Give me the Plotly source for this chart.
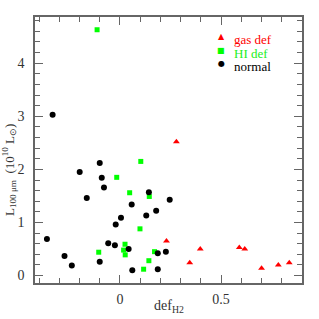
import plotly.graph_objects as go

# gas deficient (red triangles)
gas_x = [0.279, 0.23, 0.345, 0.397, 0.59, 0.617, 0.70, 0.783, 0.837]
gas_y = [2.52, 0.65, 0.24, 0.50, 0.53, 0.50, 0.14, 0.20, 0.24]

# HI deficient (green squares)
hi_x = [-0.113, -0.105, -0.016, 0.048, 0.145, 0.103, 0.099, 0.025, 0.018, 0.026, 0.117, 0.143, 0.171]
hi_y = [4.63, 0.44, 1.85, 1.56, 1.49, 2.15, 0.88, 0.59, 0.48, 0.39, 0.12, 0.28, 0.45]

# normal (black circles)
norm_x = [-0.333, -0.361, -0.274, -0.238, -0.199, -0.164, -0.100, -0.090, -0.079, -0.100,
          -0.058, -0.025, -0.021, 0.005, 0.058, 0.143, 0.130, 0.179, 0.043, 0.061,
          0.187, 0.187, 0.246, 0.227]
norm_y = [3.03, 0.69, 0.37, 0.19, 1.95, 1.46, 2.12, 1.84, 1.66, 0.26,
          0.61, 0.57, 0.96, 1.09, 1.34, 1.57, 1.13, 1.22, 0.50, 0.10,
          0.42, 0.12, 1.43, 0.45]

legend_labels = ["gas def", "HI def", "normal"]
legend_colors = ["#ff0000", "#00ff00", "#000000"]
legend_glyphs = ["▲", "■", "●"]

FONT = "Liberation Serif"

fig = go.Figure()
fig.add_trace(go.Scatter(x=gas_x, y=gas_y, mode="markers", name=legend_labels[0],
                         marker=dict(symbol="triangle-up", size=6, color=legend_colors[0])))
fig.add_trace(go.Scatter(x=hi_x, y=hi_y, mode="markers", name=legend_labels[1],
                         marker=dict(symbol="square", size=5, color=legend_colors[1])))
fig.add_trace(go.Scatter(x=norm_x, y=norm_y, mode="markers", name=legend_labels[2],
                         marker=dict(symbol="circle", size=6, color=legend_colors[2])))

axcommon = dict(showline=True, linecolor="#666666", linewidth=1.5, mirror="allticks",
                ticks="inside", tickcolor="#666666", showgrid=False, zeroline=False,
                tickfont=dict(family=FONT, size=14, color="#333333"))

fig.update_xaxes(range=[-0.42, 0.9], tickvals=[0, 0.5], ticktext=["0", "0.5"], ticklen=8,
                 ticklabelstandoff=2,
                 minor=dict(ticks="inside", dtick=0.1, tick0=0, ticklen=5, tickcolor="#666666"),
                 **axcommon)
fig.update_yaxes(range=[-0.14, 4.87], tickvals=[0, 1, 2, 3, 4], ticklen=8,
                 ticklabelstandoff=6,
                 minor=dict(ticks="inside", dtick=0.2, tick0=0, ticklen=5, tickcolor="#666666"),
                 **axcommon)

fig.add_annotation(text="def<sub>H2</sub>", xref="paper", yref="paper", x=0.5, y=0,
                   yshift=-13, showarrow=False, yanchor="top",
                   font=dict(family=FONT, size=14, color="#333333"))
fig.add_annotation(text="L<sub>100 μm</sub>  (10<sup>10</sup> L<sub>⊙</sub>)", xref="paper", yref="paper",
                   x=0, xshift=-26, xanchor="center", y=0.425, showarrow=False, textangle=-90,
                   font=dict(family=FONT, size=13, color="#333333"))

# legend drawn as text
leg_y = [0.925, 0.873, 0.825]
for lab, col, gl, yy in zip(legend_labels, legend_colors, legend_glyphs, leg_y):
    fig.add_annotation(text=gl, xref="paper", yref="paper", x=0.697, y=yy, showarrow=False,
                       xanchor="center", yanchor="middle",
                       font=dict(family="DejaVu Sans", size=8, color=col))
    fig.add_annotation(text=lab, xref="paper", yref="paper", x=0.738, y=yy - 0.01, showarrow=False,
                       xanchor="left", yanchor="middle",
                       font=dict(family=FONT, size=13, color=col if col != "#00ff00" else "#22ee22"))

fig.update_layout(width=319, height=319, margin=dict(l=35, r=17, t=17, b=34),
                  paper_bgcolor="white", plot_bgcolor="white", showlegend=False)

fig.write_html("out.html", config={"displayModeBar": False},
               post_script="document.body.style.margin='0';")
